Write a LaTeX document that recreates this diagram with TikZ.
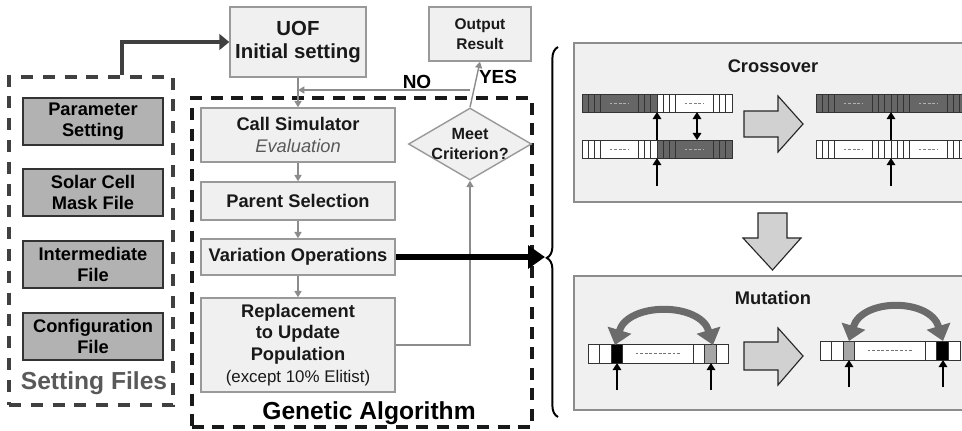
\documentclass[tikz,border=0pt]{standalone}
\usepackage{fontspec}
\setmainfont{Liberation Sans}
\usetikzlibrary{arrows.meta,shapes.geometric,decorations.pathreplacing}
\newcommand{\drawGeneHalf}[4]{
\foreach \i in {0,1,2} {\draw [gene,fill=#3] (#1+\i*6.25,#2) rectangle ++(6.25,18);}
\draw [gene,fill=#3] (#1+18.75,#2) rectangle ++(37.5,18);
\draw [genedash,#4] (#1+27.5,#2+9) -- ++(19.5,0);
\foreach \i in {0,1,2} {\draw [gene,fill=#3] (#1+56.25+\i*6.25,#2) rectangle ++(6.25,18);}
}
\newcommand{\drawMutGenes}[4]{
\draw [gene,fill=white] (#1,#2) rectangle ++(140,19);
\foreach \i/\c in {0/white,1/white,2/#3} {\draw [gene,fill=\c] (#1+\i*11.6,#2) rectangle ++(11.6,19);}
\foreach \i/\c in {0/white,1/#4,2/white} {\draw [gene,fill=\c] (#1+105.2+\i*11.6,#2) rectangle ++(11.6,19);}
\draw [genedash,black!55] (#1+47.5,#2+9.5) -- ++(45,0);
}
\tikzset{
gabox/.style={draw=black!40,fill=black!6,line width=1pt,inner sep=0pt,align=center,text=black!90,font=\fontsize{13}{15.5}\selectfont\bfseries},
filebox/.style={draw=black!80,fill=black!30,line width=1.4pt,inner sep=0pt,align=center,minimum width=3.5cm,minimum height=1.175cm,font=\fontsize{13}{15}\selectfont\bfseries},
decision/.style={diamond,draw=black!40,fill=black!6,line width=1pt,inner sep=0pt,aspect=1.7,minimum width=3.075cm,minimum height=1.8cm},
setframe/.style={draw=black!75,line width=2.6pt,dash pattern=on 8.5pt off 7pt,inner sep=0pt},
gaframe/.style={draw=black!90,line width=2.4pt,dash pattern=on 8.5pt off 6pt,inner sep=0pt},
flow/.style={draw=black!45,line width=1pt,-{Triangle[length=4.5pt,width=5pt]}},
thickarrow/.style={draw=black!75,line width=2.6pt,-{Triangle[length=7pt,width=11pt]}},
bigarrow/.style={draw=black,line width=4.2pt,-{Triangle[length=12pt,width=16pt]}},
panel/.style={draw=black!45,fill=black!6,line width=1.4pt},
blockarrow/.style={draw=black!85,fill=black!18,line width=0.8pt},
gene/.style={draw=black!80,line width=0.6pt},
genedash/.style={line width=0.6pt,dash pattern=on 2pt off 1.3pt},
genearrow/.style={draw=black,line width=1.8pt,-{Triangle[length=5pt,width=6pt]}},
swaparrow/.style={draw=black!58,line width=5pt,{Triangle[length=11pt,width=17pt]}-{Triangle[length=11pt,width=17pt]}},
bigtext/.style={font=\fontsize{17.5}{20}\selectfont\bfseries}
}
\begin{document}
\begin{tikzpicture}[x=0.025cm,y=-0.025cm]
\useasboundingbox (0,0) rectangle (962,430);
\clip (0,0) rectangle (962,430);
\fill [white] (0,0) rectangle (962,430);
\node (setfiles) at (91,241) [setframe,minimum width=4.1cm,minimum height=8.2cm] {};
\node (gaframe) at (362,262.5) [gaframe,minimum width=8.5cm,minimum height=8.225cm] {};
\node (param) at (93,121.5) [filebox] {Parameter\\Setting};
\node (mask) at (93,192.5) [filebox] {Solar Cell\\Mask File};
\node (inter) at (93,264.5) [filebox] {Intermediate\\File};
\node (config) at (93,336.5) [filebox] {Configuration\\File};
\node (setlabel) at (94,383) [bigtext,text=black!65] {Setting Files};
\node (uof) at (298,42) [gabox,minimum width=3.4cm,minimum height=1.75cm,font=\fontsize{14.5}{16.5}\selectfont\bfseries] {UOF\\Initial setting};
\node (out) at (480,34) [gabox,minimum width=2.55cm,minimum height=1.35cm,font=\fontsize{11}{14}\selectfont\bfseries] {Output\\Result};
\node (call) at (298,135) [gabox,minimum width=4.85cm,minimum height=1.35cm] {Call Simulator\\{\mdseries\itshape\color{black!65}Evaluation}};
\node (parent) at (298,201) [gabox,minimum width=4.85cm,minimum height=0.95cm] {Parent Selection};
\node (vari) at (298,257) [gabox,minimum width=4.85cm,minimum height=0.9cm] {Variation Operations};
\node (repl) at (298,345) [gabox,minimum width=4.85cm,minimum height=2.35cm] {Replacement\\to Update\\Population\\{\mdseries\fontsize{12}{15}\selectfont(except 10\% Elitist)}};
\node (meet) at (470,144) [decision] {};
\node (meettext) at (meet) [align=center,font=\fontsize{11.5}{14}\selectfont\bfseries,text=black!90] {Meet\\Criterion?};
\node (galabel) at (369,413) [bigtext] {Genetic Algorithm};
\node (nolabel) at (417,82) [font=\fontsize{13.5}{15}\selectfont\bfseries] {NO};
\node (yeslabel) at (498,77) [font=\fontsize{13.5}{15}\selectfont\bfseries] {YES};
\coordinate (nojoin) at (470,90);
\coordinate (bracetip) at (545,257);
\draw [thickarrow] ([xshift=0.775cm]setfiles.north) |- (uof.west);
\draw [flow] (uof) -- (call);
\draw [flow] (call) -- (parent);
\draw [flow] (parent) -- (vari);
\draw [flow] (vari) -- (repl);
\draw [flow] (repl.east) -| (meet.south);
\draw [flow] (meet.north) -- (out.south);
\draw [flow] (nojoin) -- (nojoin -| uof.south);
\draw [bigarrow] (vari.east) -- (bracetip);
\draw [decorate,decoration={brace,amplitude=0.28cm,aspect=0.43},line width=1.4pt] (558,417) -- (558,47);
\draw [panel] (574,43) rectangle (970,202);
\draw [panel] (574,276) rectangle (970,410);
\node (crosslabel) at (773,66) [font=\fontsize{13}{15}\selectfont\bfseries,text=black!90] {Crossover};
\node (mutlabel) at (773,298) [font=\fontsize{13}{15}\selectfont\bfseries,text=black!90] {Mutation};
\drawGeneHalf{582}{94}{black!60}{black!30}
\drawGeneHalf{657}{94}{white}{black!50}
\drawGeneHalf{582}{140}{white}{black!50}
\drawGeneHalf{657}{140}{black!60}{black!30}
\drawGeneHalf{816}{94}{black!60}{black!30}
\drawGeneHalf{891}{94}{black!60}{black!30}
\drawGeneHalf{816}{140}{white}{black!50}
\drawGeneHalf{891}{140}{white}{black!50}
\draw [genearrow] (657,140) -- (657,112);
\draw [genearrow] (657,186) -- (657,158);
\draw [genearrow,{Triangle[length=5pt,width=6pt]}-{Triangle[length=5pt,width=6pt]}] (697,112) -- (697,140);
\draw [genearrow] (891,140) -- (891,112);
\draw [genearrow] (891,186) -- (891,158);
\draw [blockarrow] (744,111) -- (778,111) -- (778,96) -- (803,124) -- (778,152) -- (778,137) -- (744,137) -- cycle;
\draw [blockarrow] (758,213) -- (787,213) -- (787,238) -- (801,238) -- (772.5,270) -- (743,238) -- (758,238) -- cycle;
\draw [blockarrow] (744,342) -- (778,342) -- (778,328) -- (803,356) -- (778,385) -- (778,370) -- (744,370) -- cycle;
\drawMutGenes{588}{344}{black}{black!35}
\drawMutGenes{820}{341}{black!35}{black}
\draw [swaparrow] (615,345) .. controls (628,302) and (700,302) .. (713,345);
\draw [swaparrow] (849,341) .. controls (862,298) and (930,298) .. (943,341);
\draw [genearrow,line width=1.2pt] (617,390) -- (617,363);
\draw [genearrow,line width=1.2pt] (711,390) -- (711,363);
\draw [genearrow,line width=1.2pt] (849,387) -- (849,360);
\draw [genearrow,line width=1.2pt] (943,387) -- (943,360);
\end{tikzpicture}
\end{document}
